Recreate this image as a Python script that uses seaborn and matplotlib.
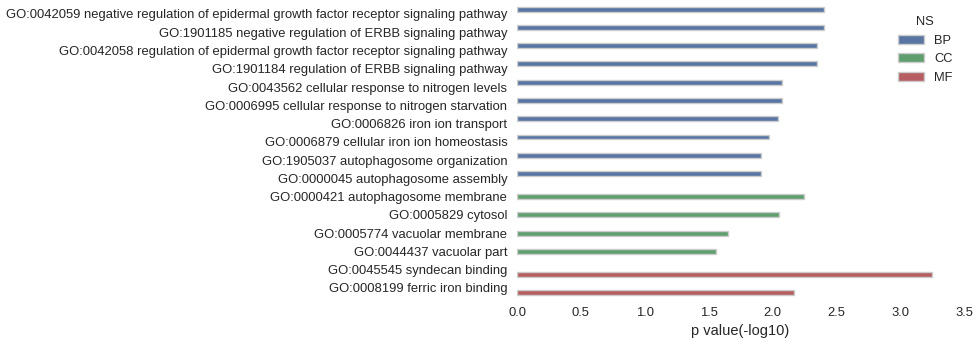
import matplotlib
matplotlib.use("Agg")
import matplotlib.pyplot as plt
import seaborn as sns
import pandas as pd

terms = [
    "GO:0042059 negative regulation of epidermal growth factor receptor signaling pathway",
    "GO:1901185 negative regulation of ERBB signaling pathway",
    "GO:0042058 regulation of epidermal growth factor receptor signaling pathway",
    "GO:1901184 regulation of ERBB signaling pathway",
    "GO:0043562 cellular response to nitrogen levels",
    "GO:0006995 cellular response to nitrogen starvation",
    "GO:0006826 iron ion transport",
    "GO:0006879 cellular iron ion homeostasis",
    "GO:1905037 autophagosome organization",
    "GO:0000045 autophagosome assembly",
    "GO:0000421 autophagosome membrane",
    "GO:0005829 cytosol",
    "GO:0005774 vacuolar membrane",
    "GO:0044437 vacuolar part",
    "GO:0045545 syndecan binding",
    "GO:0008199 ferric iron binding",
]
ns = ["BP"] * 10 + ["CC"] * 4 + ["MF"] * 2
pvals = [2.40, 2.40, 2.35, 2.35, 2.075, 2.075, 2.04, 1.97, 1.91, 1.91,
         2.25, 2.05, 1.65, 1.56, 3.25, 2.17]
hue_levels = ["BP", "CC", "MF"]
xticks = [0, 0.5, 1.0, 1.5, 2.0, 2.5, 3.0, 3.5]

df = pd.DataFrame({"term": terms, "NS": ns, "p": pvals})

sns.set_style("white")
plt.rcParams["font.family"] = ["Liberation Sans", "DejaVu Sans"]

fig = plt.figure(figsize=(9.8, 3.45), dpi=100)
ax = fig.add_axes([0.5276, 0.139, 0.4561, 0.847])
sns.barplot(data=df, y="term", x="p", hue="NS", hue_order=hue_levels,
            palette=sns.color_palette("deep6", 3), orient="h", dodge=True,
            edgecolor="0.8", linewidth=1, ax=ax, errorbar=None)
ax.set_xlim(0, 3.5)
ax.set_xticks(xticks)
ax.set_xticklabels([f"{v:.1f}" for v in xticks])
ax.set_ylabel("")
ax.set_xlabel("p value(-log10)", fontsize=10.5, color="0.15", labelpad=3)
ax.tick_params(axis="both", labelsize=9.35, colors="0.15", length=0)
ax.tick_params(axis="y", pad=7)
ax.tick_params(axis="x", pad=7.5)
for s in ax.spines.values():
    s.set_visible(False)
leg = ax.legend(title="NS", loc="upper right", frameon=False, fontsize=9.3,
                title_fontsize=9.3, bbox_to_anchor=(1.0, 1.0))
fig.savefig("out.png", dpi=100)
